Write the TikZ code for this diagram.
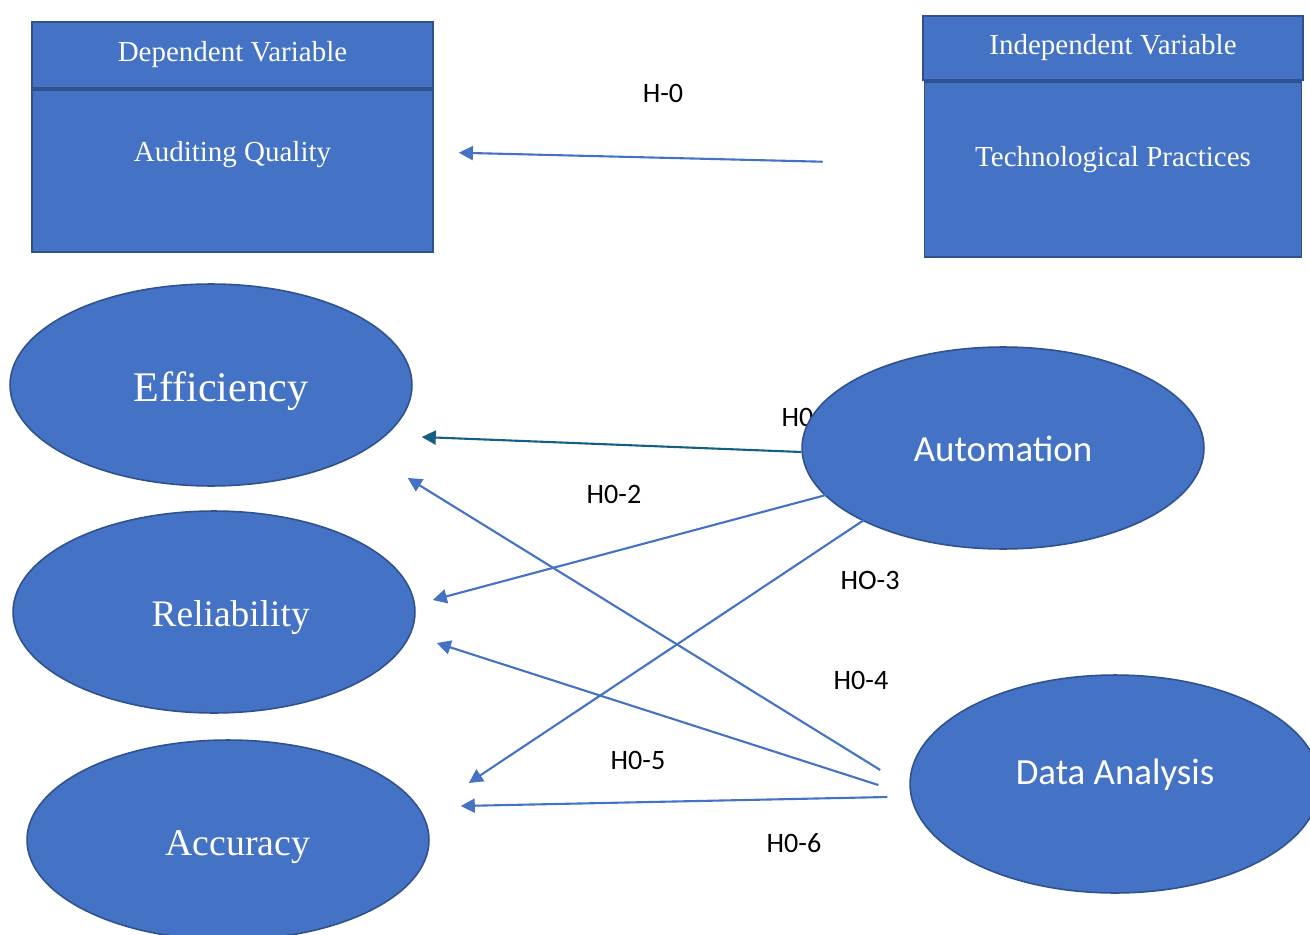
\documentclass[tikz,border=0pt]{standalone}
\usepackage{fontspec}
\setmainfont{Liberation Serif}
\newfontfamily\calibri{Carlito}
\usepackage{xcolor}
\usepackage{tikz}
\usetikzlibrary{positioning, arrows.meta, shapes.geometric}
\definecolor{boxblue}{HTML}{4472C4}
\definecolor{edgeblue}{HTML}{2F528F}
\definecolor{tealline}{HTML}{156082}

\begin{document}
\begin{tikzpicture}[
    x=0.02cm, y=-0.02cm,
    varbox/.style={
        draw=edgeblue,
        line width=1pt,
        fill=boxblue,
        text=white,
        align=center,
        font=\fontsize{16.5}{20}\selectfont,
        inner sep=0pt
    },
    factor/.style={
        ellipse,
        draw=edgeblue,
        line width=0.9pt,
        fill=boxblue,
        text=white,
        inner sep=0pt,
        minimum width=8.04cm,
        minimum height=4.04cm
    },
    arrow/.style={-{Triangle[length=8pt,width=8pt]}, line width=1.2pt, color=boxblue},
    hyp/.style={font=\calibri\fontsize{16}{19}\selectfont, text=black, inner sep=0pt}
]
\useasboundingbox (0,0) rectangle (1310,935);
\clip (0,0) rectangle (1310,935);

\node (dv) [varbox, minimum width=8.02cm, minimum height=1.32cm] at (232.5,55) {Dependent Variable};
\node (aq) [varbox, minimum width=8.02cm, minimum height=3.24cm, text height=12pt, text depth=22pt, below=0pt of dv] {Auditing Quality};

\node (iv) [varbox, minimum width=7.6cm, minimum height=1.28cm] at (1113,48) {Independent Variable};
\node (tp) [varbox, minimum width=7.54cm, minimum height=3.5cm, text height=12pt, text depth=15.5pt, below=0pt of iv] {Technological Practices};

\node (h1) [hyp] at (809,417) {H0-1};

\node (eff) [factor, font=\fontsize{24}{28}\selectfont, text height=22pt, text depth=3pt] at (211,385) {\hspace*{11pt}Efficiency};
\node (rel) [factor, font=\fontsize{21.3}{26}\selectfont, text height=20pt, text depth=3pt] at (214,612) {\hspace*{19pt}Reliability};
\node (acc) [factor, font=\fontsize{21.5}{26}\selectfont, text height=20.5pt, text depth=3pt, minimum height=4cm] at (228,840) {\hspace*{11pt}Accuracy};
\node (auto) [factor, font=\calibri\fontsize{21}{25}\selectfont, text height=15pt, text depth=0pt] at (1003,448) {Automation};
\node (da) [factor, font=\calibri\fontsize{21}{25}\selectfont, text height=10pt, text depth=10pt, minimum width=8.2cm, minimum height=4.36cm] at (1115,784) {Data Analysis};

\node (h0) [hyp] at (663,93) {H-0};
\node (h2) [hyp] at (614,494) {H0-2};
\node (h3) [hyp] at (870,580) {HO-3};
\node (h4) [hyp] at (861,680) {H0-4};
\node (h5) [hyp] at (638,760) {H0-5};
\node (h6) [hyp] at (794,843) {H0-6};

\draw[arrow] ([shift={(-101,-7.5)}]tp.west) -- ([shift={(25,-18)}]aq.east);
\draw[arrow, color=tealline] ([shift={(0,4)}]auto.west) -- ([shift={(9,52)}]eff.east);
\draw[arrow] ([shift={(-177,47)}]auto.center) -- ([shift={(17,-12)}]rel.east);
\draw[arrow] ([shift={(-139,72)}]auto.center) -- ([shift={(39,-57)}]acc.east);
\draw[arrow] ([shift={(-29,-14)}]da.west) -- ([shift={(-5,93)}]eff.east);
\draw[arrow] ([shift={(-31,1)}]da.west) -- ([shift={(21,31)}]rel.east);
\draw[arrow] ([shift={(-22,13)}]da.west) -- ([shift={(31,-34)}]acc.east);

\end{tikzpicture}
\end{document}
